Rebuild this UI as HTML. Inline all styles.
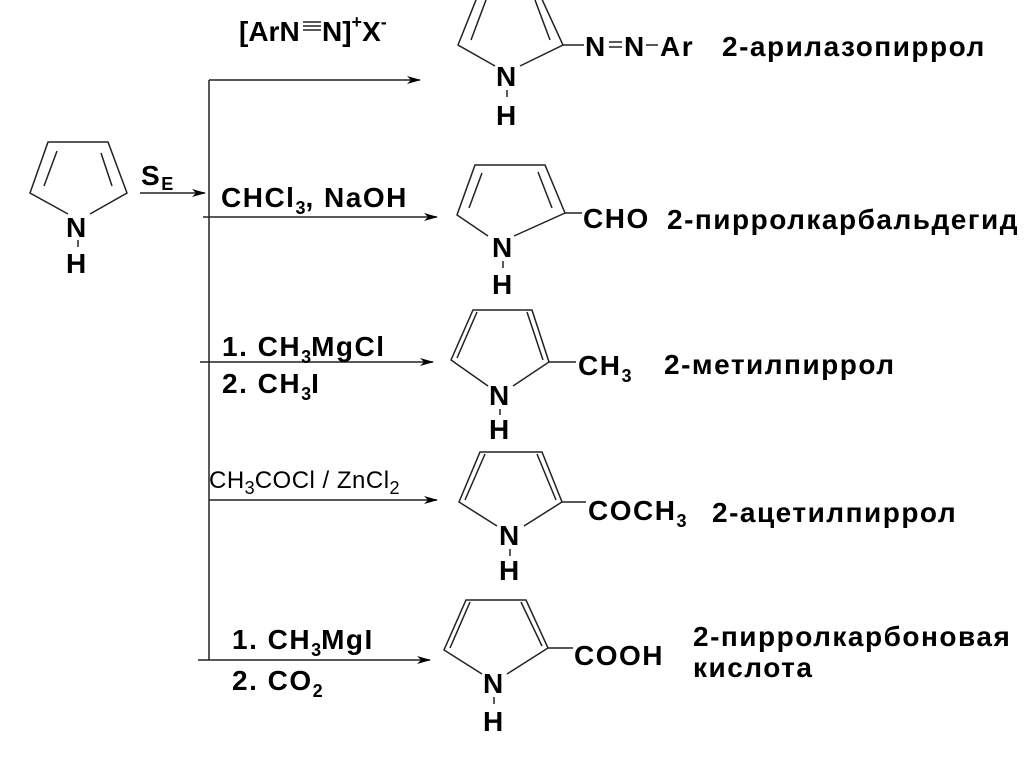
<!DOCTYPE html>
<html><head><meta charset="utf-8"><style>
body{margin:0;background:#fff;width:1024px;height:767px;overflow:hidden}
svg{display:block}
text{font-family:"Liberation Sans",Arial,sans-serif;font-weight:bold;font-size:28px;letter-spacing:1.5px;fill:#000}
.s{font-size:18px;letter-spacing:0}
</style></head><body>
<svg width="1024" height="767" viewBox="0 0 1024 767">
<defs><marker id="a" markerWidth="14" markerHeight="8" refX="13" refY="4" orient="auto" markerUnits="userSpaceOnUse"><path d="M0,0 L14,4 L0,8 L4,4z" fill="#000"/></marker></defs>
<g stroke="#222" stroke-width="1.5" fill="none">
<path d="M68,214 L30,193 L48,142 L108,142 L127,193 L90,214"/>
<path d="M44,186 L57,151 M112,186 L101,153"/>
<line x1="78" y1="240" x2="78" y2="247"/>
<line x1="140" y1="193" x2="205" y2="193" marker-end="url(#a)"/>
<line x1="209" y1="80" x2="209" y2="660"/>
<line x1="209" y1="80" x2="420" y2="80" marker-end="url(#a)"/>
<line x1="203" y1="217" x2="437" y2="217" marker-end="url(#a)"/>
<line x1="200" y1="362" x2="433" y2="362" marker-end="url(#a)"/>
<line x1="209" y1="500" x2="437" y2="500" marker-end="url(#a)"/>
<line x1="198" y1="660" x2="430" y2="660" marker-end="url(#a)"/>
<path d="M495,66 L458,45 L478,-5 M540,-5 L563,45 L520,66"/>
<path d="M471,40 L486,0 M550,40 L535,0"/>
<line x1="563" y1="45" x2="584" y2="45"/>
<line x1="507" y1="90" x2="507" y2="97"/>
<line x1="609" y1="42" x2="622" y2="42"/><line x1="609" y1="47" x2="622" y2="47"/>
<line x1="646" y1="45" x2="658" y2="45"/>
<path d="M488,236 L457,215 L475,165 L545,165 L565,213 L514,236"/>
<path d="M469,208 L482,173 M552,208 L538,172"/>
<line x1="565" y1="213" x2="582" y2="213"/>
<line x1="503" y1="261" x2="503" y2="268"/>
<path d="M488,386 L451,360 L473,310 L532,310 L549,362 L513,386"/>
<path d="M457,358 L477,312 M543,360 L527,312"/>
<line x1="549" y1="362" x2="576" y2="362"/>
<line x1="500" y1="409" x2="500" y2="415"/>
<path d="M497,526 L459,502 L480,452 L542,452 L562,502 L524,526"/>
<path d="M465,500 L485,454 M556,500 L537,454"/>
<line x1="562" y1="502" x2="586" y2="502"/>
<line x1="510" y1="549" x2="510" y2="556"/>
<path d="M482,674 L444,650 L466,600 L526,600 L548,648 L507,674"/>
<path d="M450,648 L470,602 M542,646 L521,602"/>
<line x1="548" y1="648" x2="573" y2="648"/>
<line x1="494" y1="697" x2="494" y2="704"/>
<line x1="303" y1="22" x2="321" y2="22"/><line x1="303" y1="26" x2="321" y2="26"/><line x1="303" y1="30" x2="321" y2="30"/>
</g>
<text x="66" y="237">N</text><text x="66" y="273">H</text>
<text x="141" y="185">S<tspan class="s" dy="5">E</tspan></text>
<text x="239" y="41" style="letter-spacing:0">[ArN</text><text x="322" y="41" style="letter-spacing:0">N]<tspan class="s" dy="-13">+</tspan><tspan dy="13">X</tspan><tspan class="s" dy="-13">-</tspan></text>
<text x="221" y="207">CHCl<tspan class="s" dy="7">3</tspan><tspan dy="-7">, NaOH</tspan></text>
<text x="222" y="356">1. CH<tspan class="s" dy="7">3</tspan><tspan dy="-7">MgCl</tspan></text>
<text x="222" y="393">2. CH<tspan class="s" dy="7">3</tspan><tspan dy="-7">I</tspan></text>
<text x="209" y="488" style="font-weight:normal;font-size:24px;letter-spacing:0.5px">CH<tspan class="s" dy="6">3</tspan><tspan dy="-6">COCl / ZnCl</tspan><tspan class="s" dy="6">2</tspan></text>
<text x="232" y="649">1. CH<tspan class="s" dy="7">3</tspan><tspan dy="-7">MgI</tspan></text>
<text x="232" y="690">2. CO<tspan class="s" dy="7">2</tspan></text>
<text x="496" y="86">N</text><text x="496" y="125">H</text>
<text x="585" y="56">N</text><text x="624" y="56">N</text><text x="660" y="56">Ar</text>
<text x="722" y="56">2-арилазопиррол</text>
<text x="492" y="257">N</text><text x="492" y="294">H</text>
<text x="583" y="228">CHO</text>
<text x="667" y="229">2-пирролкарбальдегид</text>
<text x="489" y="405">N</text><text x="489" y="439">H</text>
<text x="578" y="375">CH<tspan class="s" dy="7">3</tspan></text>
<text x="664" y="374">2-метилпиррол</text>
<text x="499" y="545">N</text><text x="499" y="580">H</text>
<text x="588" y="520">COCH<tspan class="s" dy="7">3</tspan></text>
<text x="712" y="522">2-ацетилпиррол</text>
<text x="483" y="693">N</text><text x="483" y="731">H</text>
<text x="574" y="665">COOH</text>
<text x="693" y="646">2-пирролкарбоновая</text>
<text x="693" y="677">кислота</text>
</svg>
</body></html>
